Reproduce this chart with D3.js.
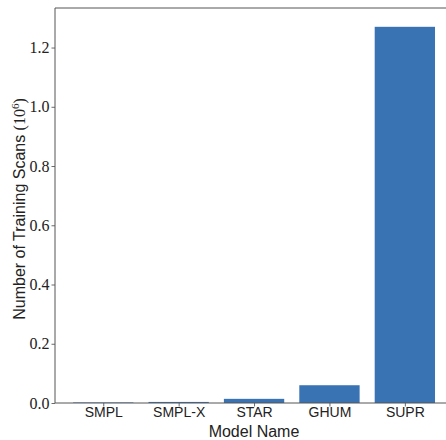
<!DOCTYPE html>
<html>
<head>
<meta charset="utf-8">
<script src="https://cdn.jsdelivr.net/npm/d3@7"></script>
<style>
  body { margin: 0; background: #fff; overflow: hidden; }
  .ytick text { font-family: "Liberation Serif", "DejaVu Serif", serif; font-size: 16px; fill: #222; }
  .xtick text { font-family: "Liberation Sans", "DejaVu Sans", sans-serif; font-size: 14px; fill: #222; }
  .axislabel { font-family: "Liberation Sans", "DejaVu Sans", sans-serif; font-size: 16px; fill: #222; }
</style>
</head>
<body>
<script>
//model names on the x axis
var models = ["SMPL", "SMPL-X", "STAR", "GHUM", "SUPR"];
//training scans, in millions
var scans = [0.0018, 0.0036, 0.014, 0.06, 1.27];
//y tick labels
var yTicks = [0.0, 0.2, 0.4, 0.6, 0.8, 1.0, 1.2];

window.onload = function(){

    var w = 446, h = 440;
    var left = 55, top = 8, bottom = 403;

    var svg = d3.select("body")
        .append("svg")
        .attr("width", w)
        .attr("height", h);

    //matplotlib style x range: bars of width 0.8 plus 5% margins
    var x = d3.scaleLinear()
        .domain([-0.64, 4.64])
        .range([left, left + 5.28 * 75.4]);

    var y = d3.scaleLinear()
        .domain([0, 1.3335])
        .range([bottom, top]);

    //bars
    svg.selectAll(".bar")
        .data(scans)
        .enter()
        .append("rect")
        .attr("class", "bar")
        .attr("x", function(d, i){ return x(i - 0.4); })
        .attr("width", x(0.8) - x(0))
        .attr("y", function(d){ return y(d); })
        .attr("height", function(d){ return y(0) - y(d); })
        .style("fill", "#3a73b3");

    //y axis
    var yAxis = svg.append("g")
        .attr("class", "ytick")
        .attr("transform", "translate(" + left + ",0)")
        .call(d3.axisLeft(y).tickValues(yTicks).tickFormat(d3.format(".1f")).tickSize(3.5).tickPadding(2));
    yAxis.select(".domain").remove();
    yAxis.selectAll("line").attr("stroke", "#444").attr("stroke-width", 0.8);

    //x axis
    var xAxis = svg.append("g")
        .attr("class", "xtick")
        .attr("transform", "translate(0," + bottom + ")")
        .call(d3.axisBottom(x).tickValues(d3.range(models.length))
            .tickFormat(function(d){ return models[d]; }).tickSize(3.5).tickPadding(1));
    xAxis.select(".domain").remove();
    xAxis.selectAll("line").attr("stroke", "#444").attr("stroke-width", 0.8);

    //spines: left, top, bottom (right one falls outside the picture)
    var spine = svg.append("g").attr("stroke", "#555").attr("stroke-width", 1).attr("fill", "none");
    spine.append("line").attr("x1", left).attr("x2", left).attr("y1", top).attr("y2", bottom);
    spine.append("line").attr("x1", left).attr("x2", w).attr("y1", top).attr("y2", top);
    spine.append("line").attr("x1", left).attr("x2", w).attr("y1", bottom).attr("y2", bottom);

    //axis titles
    svg.append("text")
        .attr("class", "axislabel")
        .attr("text-anchor", "middle")
        .attr("x", 254)
        .attr("y", 437)
        .text("Model Name");

    var ylab = svg.append("text")
        .attr("class", "axislabel")
        .attr("text-anchor", "middle")
        .attr("transform", "translate(25,209) rotate(-90)");
    ylab.append("tspan").text("Number of Training Scans ");
    ylab.append("tspan").style("font-family", "'Liberation Serif', serif").text("(10");
    ylab.append("tspan").style("font-family", "'Liberation Serif', serif").style("font-size", "11px")
        .attr("dy", -6).text("6");
    ylab.append("tspan").style("font-family", "'Liberation Serif', serif").attr("dy", 6).text(")");
}
</script>
</body>
</html>
